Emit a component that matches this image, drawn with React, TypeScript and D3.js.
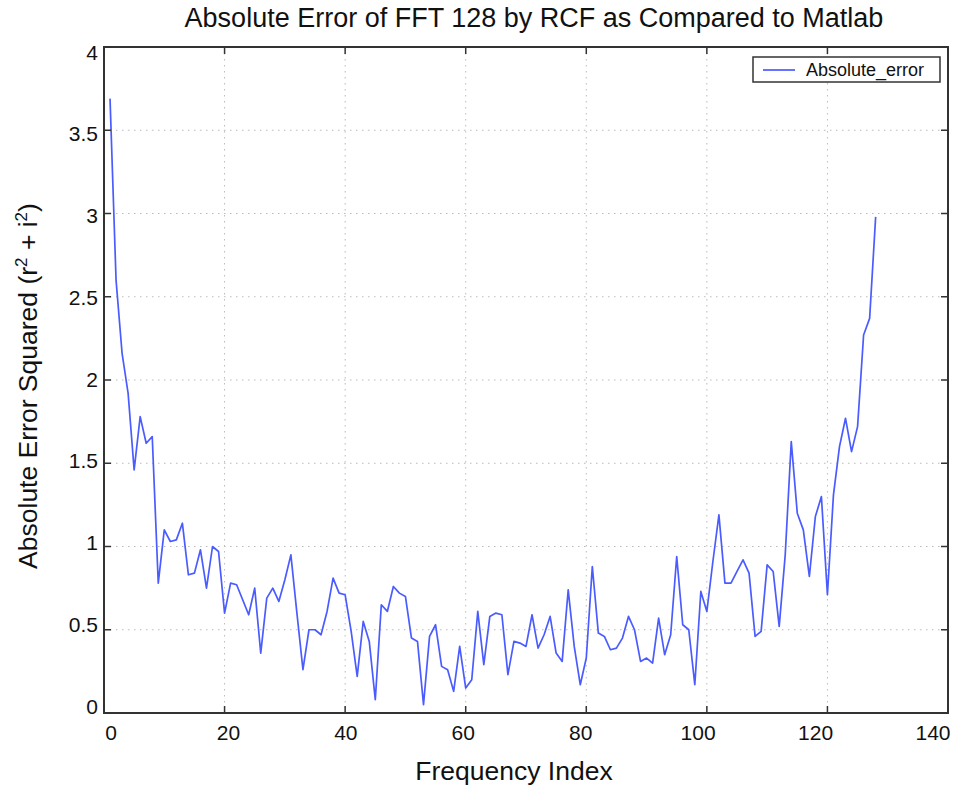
import * as d3 from 'd3'

const TITLE = 'Absolute Error of FFT 128 by RCF as Compared to Matlab'
const X_LABEL = 'Frequency Index'
const LEGEND_LABEL = 'Absolute_error'

// absolute error per frequency bin (bins 1..128)
const absoluteError = [
  3.69, 2.6, 2.16, 1.92, 1.46, 1.78, 1.62, 1.66, 0.78, 1.1,
  1.03, 1.04, 1.14, 0.83, 0.84, 0.98, 0.75, 1.0, 0.97, 0.6,
  0.78, 0.77, 0.68, 0.59, 0.75, 0.36, 0.69, 0.75, 0.67, 0.8,
  0.95, 0.6, 0.26, 0.5, 0.5, 0.47, 0.61, 0.81, 0.72, 0.71,
  0.49, 0.22, 0.55, 0.43, 0.08, 0.65, 0.61, 0.76, 0.72, 0.7,
  0.45, 0.43, 0.05, 0.46, 0.53, 0.28, 0.26, 0.13, 0.4, 0.15,
  0.2, 0.61, 0.29, 0.58, 0.6, 0.59, 0.23, 0.43, 0.42, 0.4,
  0.59, 0.39, 0.47, 0.58, 0.36, 0.31, 0.74, 0.4, 0.17, 0.33,
  0.88, 0.48, 0.46, 0.38, 0.39, 0.45, 0.58, 0.5, 0.31, 0.33,
  0.3, 0.57, 0.35, 0.47, 0.94, 0.53, 0.5, 0.17, 0.73, 0.61,
  0.91, 1.19, 0.78, 0.78, 0.85, 0.92, 0.84, 0.46, 0.49, 0.89,
  0.85, 0.52, 0.95, 1.63, 1.2, 1.1, 0.82, 1.18, 1.3, 0.71,
  1.31, 1.6, 1.77, 1.57, 1.72, 2.27, 2.37, 2.98,
]

const xTicks = [0, 20, 40, 60, 80, 100, 120, 140]
const yTicks = [0, 0.5, 1, 1.5, 2, 2.5, 3, 3.5, 4]
const yTickLabels = ['0', '0.5', '1', '1.5', '2', '2.5', '3', '3.5', '4']

const W = 954
const H = 787
const box = { l: 104, r: 948, t: 47, b: 713 }
const FONT = 'Liberation Sans, Arial, Helvetica, sans-serif'
const LINE = '#4a5cff'

export default function App() {
  const x = d3.scaleLinear().domain([0, 140]).range([box.l, box.r])
  const y = d3.scaleLinear().domain([0, 4]).range([box.b, box.t])
  // the printed tick labels sit slightly inside the tick positions
  const xLab = d3.scaleLinear().domain([0, 140]).range([111, 933])
  const yLab = d3.scaleLinear().domain([0, 4]).range([706, 52])

  const pts = absoluteError.map((v, i) => [i + 1, v] as [number, number])
  const line = d3.line<[number, number]>().x(d => x(d[0])).y(d => y(d[1]))

  const tickLen = 7

  return (
    <svg width={W} height={H} style={{ position: 'absolute', left: 0, top: 0, background: '#fff' }}
      fontFamily={FONT}>
      <rect x={0} y={0} width={W} height={H} fill="#fff" />

      {/* grid */}
      {xTicks.slice(1, -1).map(t => (
        <line key={'gx' + t} x1={x(t)} x2={x(t)} y1={box.t} y2={box.b}
          stroke="#bbb" strokeWidth={1} strokeDasharray="1.5,4.5" />
      ))}
      {yTicks.slice(1, -1).map(t => (
        <line key={'gy' + t} x1={box.l} x2={box.r} y1={y(t)} y2={y(t)}
          stroke="#bbb" strokeWidth={1} strokeDasharray="1.5,4.5" />
      ))}

      {/* data */}
      <path d={line(pts) || ''} fill="none" stroke={LINE} strokeWidth={1.7} strokeLinejoin="round" />

      {/* frame */}
      <rect x={box.l} y={box.t} width={box.r - box.l} height={box.b - box.t}
        fill="none" stroke="#333" strokeWidth={2} />

      {/* ticks */}
      {xTicks.map(t => (
        <g key={'tx' + t}>
          <line x1={x(t)} x2={x(t)} y1={box.b} y2={box.b - tickLen} stroke="#333" strokeWidth={1.5} />
          <line x1={x(t)} x2={x(t)} y1={box.t} y2={box.t + tickLen} stroke="#333" strokeWidth={1.5} />
          <text x={xLab(t)} y={740} textAnchor="middle" fontSize={21} fill="#111">{t}</text>
        </g>
      ))}
      {yTicks.map((t, i) => (
        <g key={'ty' + t}>
          <line x1={box.l} x2={box.l + tickLen} y1={y(t)} y2={y(t)} stroke="#333" strokeWidth={1.5} />
          <line x1={box.r} x2={box.r - tickLen} y1={y(t)} y2={y(t)} stroke="#333" strokeWidth={1.5} />
          <text x={98} y={yLab(t)} dy="0.36em" textAnchor="end" fontSize={21} fill="#111">{yTickLabels[i]}</text>
        </g>
      ))}

      {/* titles */}
      <text x={534} y={27} textAnchor="middle" fontSize={27} fill="#111">{TITLE}</text>
      <text x={514} y={780} textAnchor="middle" fontSize={26.5} fill="#111">{X_LABEL}</text>
      <text transform="translate(37,386) rotate(-90)" textAnchor="middle" fontSize={26.5} fill="#111">
        Absolute Error Squared (r<tspan dy={-10} fontSize={17}>2</tspan>
        <tspan dy={10}> + i</tspan><tspan dy={-10} fontSize={17}>2</tspan><tspan dy={10}>)</tspan>
      </text>

      {/* legend */}
      <rect x={753} y={57} width={187} height={25} fill="#fff" stroke="#333" strokeWidth={1.5} />
      <line x1={763} x2={795} y1={70} y2={70} stroke={LINE} strokeWidth={1.7} />
      <text x={806} y={70} dy="0.36em" fontSize={18} fill="#111">{LEGEND_LABEL}</text>
    </svg>
  )
}
